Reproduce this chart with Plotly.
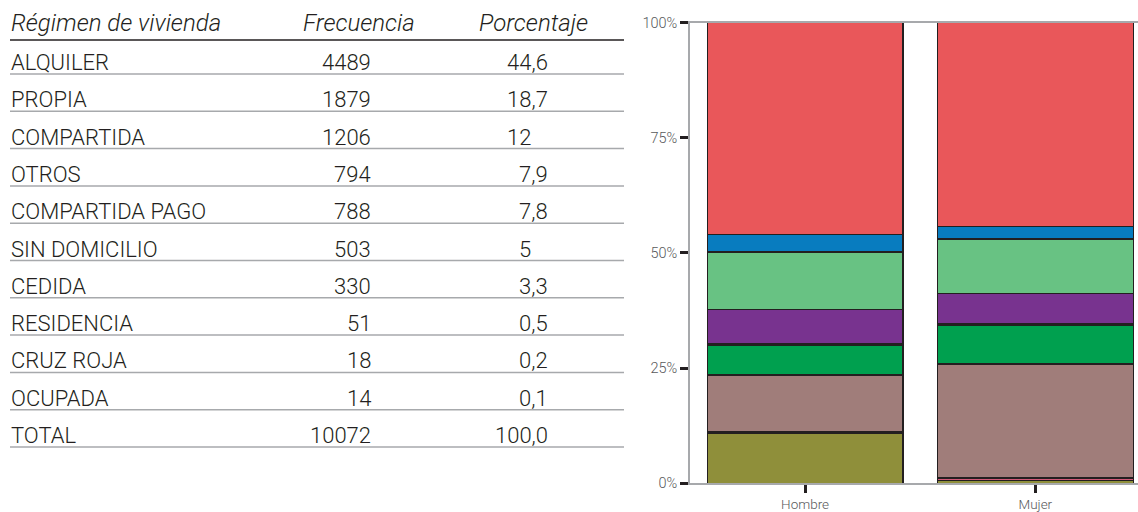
import plotly.graph_objects as go

# ---- Table data ----
regimen = ["ALQUILER", "PROPIA", "COMPARTIDA", "OTROS", "COMPARTIDA PAGO",
           "SIN DOMICILIO", "CEDIDA", "RESIDENCIA", "CRUZ ROJA", "OCUPADA"]
frecuencia = [4489, 1879, 1206, 794, 788, 503, 330, 51, 18, 14]
porcentaje_labels = ["44,6", "18,7", "12", "7,9", "7,8", "5", "3,3", "0,5", "0,2", "0,1"]
total_label = "100,0"

# ---- Stacked bar data (percent within each sex, bottom to top) ----
sexos = ["Hombre", "Mujer"]
segmentos = ["SIN DOMICILIO", "RESIDENCIA", "CRUZ ROJA", "PROPIA", "COMPARTIDA PAGO",
             "OCUPADA", "OTROS", "COMPARTIDA", "CEDIDA", "ALQUILER"]
hombre_pct = [10.8, 0.0, 0.4, 12.3, 6.5, 0.4, 7.3, 12.5, 3.8, 46.0]
mujer_pct = [0.6, 0.4, 0.2, 24.7, 8.3, 0.4, 6.6, 11.8, 2.8, 44.2]
colores = ["#8f8f3a", "#d05a78", "#231f20", "#a07d7a", "#00a04f",
           "#231f20", "#78338f", "#68c283", "#087cbf", "#e9575a"]

W, H = 1138, 512
FONT = "Roboto"
TXT = "#231f20"

fig = go.Figure()
for name, h, m, c in zip(segmentos, hombre_pct, mujer_pct, colores):
    fig.add_trace(go.Bar(
        x=sexos, y=[h, m], name=name, marker=dict(color=c, line=dict(color="#231f20", width=1.2)),
        showlegend=False, hoverinfo="skip"))

# pixel helpers for the table drawn in paper space
def px(x):
    return x / W

def py(y):
    return 1 - y / H

annotations = []
shapes = []

LEFT, RIGHT = 10, 624
FREQ_RIGHT = 372
PCT_RIGHT = 549
PCT_INT_RIGHT = 532
ROW0_LINE = 74
STEP = 37.3

# header
hdr_y = 23
hdr_font = dict(family=FONT, size=24, color=TXT, style="italic", weight=300)
annotations.append(dict(x=px(LEFT), y=py(hdr_y), text="Régimen de vivienda", xanchor="left",
                        yanchor="middle", font=hdr_font))
annotations.append(dict(x=px(359), y=py(hdr_y), text="Frecuencia", xanchor="center",
                        yanchor="middle", font=hdr_font))
annotations.append(dict(x=px(533), y=py(hdr_y), text="Porcentaje", xanchor="center",
                        yanchor="middle", font=hdr_font))
shapes.append(dict(type="line", xref="paper", yref="paper", x0=px(LEFT), x1=px(RIGHT),
                   y0=py(40), y1=py(40), line=dict(color="#231f20", width=1.5)))

rows = list(zip(regimen, frecuencia, porcentaje_labels))
rows.append(("TOTAL", sum(frecuencia), total_label))
for i, (lab, f, p) in enumerate(rows):
    line_y = ROW0_LINE + i * STEP
    ty = line_y - 11.5
    font = dict(family=FONT, size=22, color=TXT, weight=300)
    annotations.append(dict(x=px(LEFT), y=py(ty), text=lab, xanchor="left", yanchor="middle", font=font))
    annotations.append(dict(x=px(FREQ_RIGHT), y=py(ty), text=str(f), xanchor="right", yanchor="middle", font=font))
    pr = PCT_RIGHT if "," in p else PCT_INT_RIGHT
    annotations.append(dict(x=px(pr), y=py(ty), text=p, xanchor="right", yanchor="middle", font=font))
    shapes.append(dict(type="line", xref="paper", yref="paper", x0=px(LEFT), x1=px(RIGHT),
                       y0=py(line_y), y1=py(line_y), line=dict(color="#a7a9ac", width=1.5)))

for a in annotations:
    a.update(xref="paper", yref="paper", showarrow=False, borderpad=0)

PLOT_LEFT, PLOT_TOP, PLOT_BOTTOM = 690, 22.5, 483.3

fig.update_layout(
    width=W, height=H,
    margin=dict(l=0, r=0, t=0, b=0, pad=0),
    paper_bgcolor="white", plot_bgcolor="white",
    barmode="stack", bargap=0.15,
    annotations=annotations, shapes=shapes,
    font=dict(family=FONT, color="#6d6e71", size=14, weight=300),
    xaxis=dict(domain=[PLOT_LEFT / W, 1], range=[-0.5, 1.446], showline=True, mirror=True,
               linecolor="#a7a9ac", linewidth=1.5, ticks="outside", ticklen=8, tickwidth=2.5,
               tickcolor="#231f20", showgrid=False, zeroline=False, automargin=False,
               tickfont=dict(family=FONT, size=13.5, color="#58595b", weight=300)),
    yaxis=dict(domain=[(H - PLOT_BOTTOM) / H, (H - PLOT_TOP) / H], range=[0, 100],
               tickvals=[0, 25, 50, 75, 100], ticktext=["0%", "25%", "50%", "75%", "100%"],
               showline=True, linecolor="#a7a9ac", linewidth=1.5, ticks="outside", ticklen=8,
               tickwidth=2.5, tickcolor="#231f20", showgrid=False, zeroline=False, automargin=False,
               tickfont=dict(family=FONT, size=14.5, color="#58595b", weight=300)),
)

fig.write_html("out.html")
